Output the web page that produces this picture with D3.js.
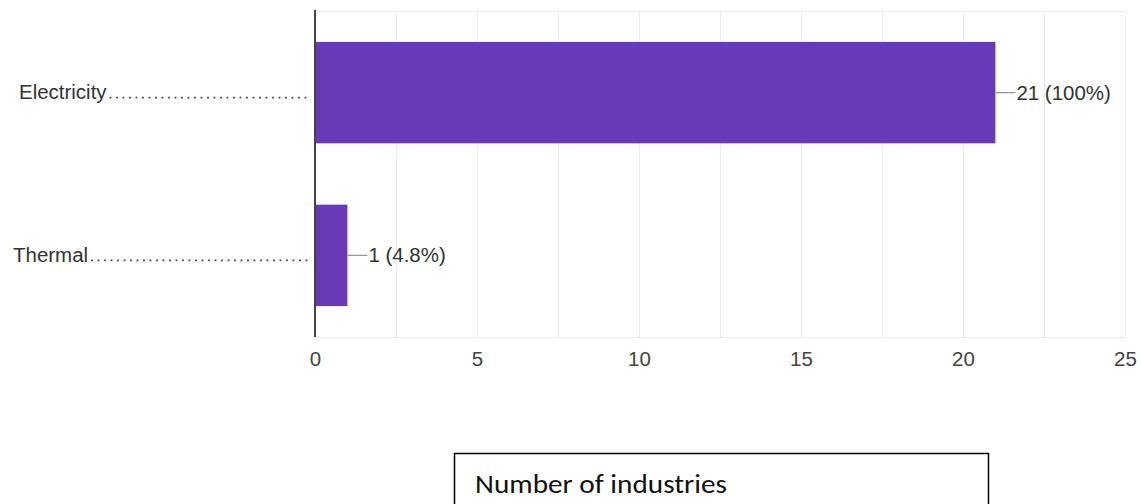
<!DOCTYPE html>
<html>
<head>
<meta charset="utf-8">
<script src="https://cdn.jsdelivr.net/npm/d3@7"></script>
<style>
  html, body { margin: 0; padding: 0; background: #fff; }
  svg { display: block; }
</style>
</head>
<body>
<svg id="chart" width="1141" height="504"></svg>
<script>
// Survey responses: energy forms used by industries
const categories = ["Electricity", "Thermal"];
const counts = [21, 1];
const percentLabels = ["100%", "4.8%"];
const xTicks = [0, 5, 10, 15, 20, 25];
const gridValues = [0, 2.5, 5, 7.5, 10, 12.5, 15, 17.5, 20, 22.5, 25];
const captionText = "Number of industries";

const svg = d3.select("#chart");
const font = "'Liberation Sans', Arial, sans-serif";
const fontSize = 19.5;
const stretch = 1.05; // slightly wide lettering

const plot = { left: 315, right: 1125, top: 11, bottom: 337 };

const x = d3.scaleLinear().domain([0, 25]).range([plot.left, plot.right]);
const y = d3.scaleBand()
  .domain(categories)
  .range([plot.top, plot.bottom])
  .paddingInner(0.377)
  .paddingOuter(0.19);

// text placed at (px, py) with a small horizontal stretch
function label(g, px, py, str, anchor, fill) {
  return g.append("text")
    .attr("transform", `translate(${px},${py}) scale(${stretch},1)`)
    .attr("text-anchor", anchor || "start")
    .attr("font-family", font)
    .attr("font-size", fontSize)
    .attr("fill", fill || "#333")
    .text(str);
}

// vertical gridlines
svg.append("g")
  .selectAll("line")
  .data(gridValues)
  .join("line")
  .attr("x1", d => x(d) + 0.5)
  .attr("x2", d => x(d) + 0.5)
  .attr("y1", plot.top)
  .attr("y2", plot.bottom)
  .attr("stroke", "#ebebeb")
  .attr("stroke-width", 1);

// top and bottom frame lines of the plot area
svg.append("g")
  .selectAll("line")
  .data([plot.top, plot.bottom])
  .join("line")
  .attr("x1", plot.left)
  .attr("x2", x(25) + 1)
  .attr("y1", d => d + 0.5)
  .attr("y2", d => d + 0.5)
  .attr("stroke", "#ebebeb")
  .attr("stroke-width", 1);

// bottom axis: positions from the axis generator, labels stretched
const xAxis = d3.axisBottom(x).tickValues(xTicks).tickSize(0).tickPadding(0).tickFormat("");
const gx = svg.append("g")
  .attr("transform", `translate(0,${plot.bottom})`)
  .call(xAxis);
gx.select(".domain").remove();
gx.selectAll(".tick").each(function (d) {
  label(d3.select(this), 0, 29, d3.format("d")(d), "middle", "#444");
});

// bars
svg.append("g")
  .selectAll("rect")
  .data(categories)
  .join("rect")
  .attr("x", x(0))
  .attr("y", d => y(d))
  .attr("width", (d, i) => x(counts[i]) - x(0))
  .attr("height", y.bandwidth())
  .attr("fill", "#673ab7");

// vertical axis line
svg.append("line")
  .attr("x1", plot.left).attr("x2", plot.left)
  .attr("y1", plot.top - 1).attr("y2", plot.bottom)
  .attr("stroke", "#444")
  .attr("stroke-width", 2);

// category labels with dotted leaders
const catG = svg.append("g");
const labelX = [19, 13];
categories.forEach((c, i) => {
  const cy = y(c) + y.bandwidth() / 2;
  const t = label(catG, labelX[i], cy + 6.5, c, "start", "#333");
  const w = t.node().getComputedTextLength() * stretch;
  catG.append("line")
    .attr("x1", labelX[i] + w + 3)
    .attr("x2", plot.left - 4)
    .attr("y1", cy + 5)
    .attr("y2", cy + 5)
    .attr("stroke", "#444")
    .attr("stroke-width", 1.8)
    .attr("stroke-dasharray", "1.8,4.7");
});

// value labels with short connector lines
const valG = svg.append("g");
categories.forEach((c, i) => {
  const cy = y(c) + y.bandwidth() / 2;
  const bx = x(counts[i]);
  valG.append("line")
    .attr("x1", bx).attr("x2", bx + 20)
    .attr("y1", cy).attr("y2", cy)
    .attr("stroke", "#999")
    .attr("stroke-width", 1.3);
  label(valG, bx + 21, cy + 7, `${counts[i]} (${percentLabels[i]})`, "start", "#333");
});

// caption box
svg.append("rect")
  .attr("x", 454.5)
  .attr("y", 453.5)
  .attr("width", 534)
  .attr("height", 60)
  .attr("fill", "none")
  .attr("stroke", "#000")
  .attr("stroke-width", 1.5);
svg.append("text")
  .attr("x", 475)
  .attr("y", 493)
  .attr("font-family", "Carlito, Lato, 'Open Sans', sans-serif")
  .attr("font-size", 26)
  .attr("font-weight", 400)
  .attr("textLength", 252)
  .attr("lengthAdjust", "spacingAndGlyphs")
  .attr("fill", "#111")
  .text(captionText);
</script>
</body>
</html>
